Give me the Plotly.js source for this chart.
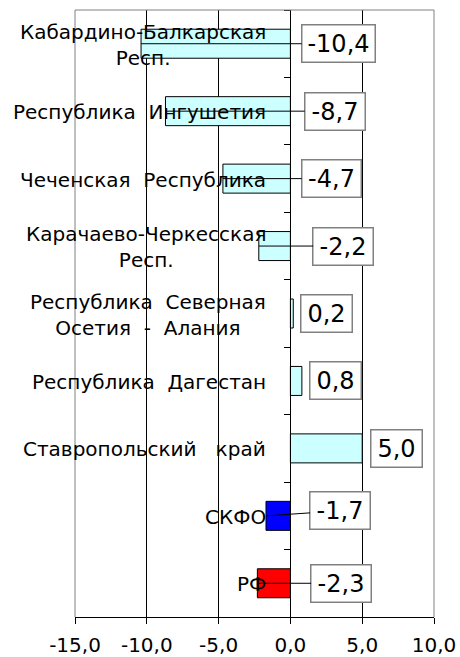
<!DOCTYPE html>
<html>
<head>
<meta charset="utf-8">
<script src="https://cdn.plot.ly/plotly-3.0.1.min.js"></script>
<style>html,body{margin:0;padding:0;background:#fff;}#chart{width:460px;height:657px;}</style>
</head>
<body>
<div id="chart"></div>
<script>
// ---- data ----
const categories = ['Кабардино-Балкарская Респ.', 'Республика Ингушетия', 'Чеченская Республика',
  'Карачаево-Черкесская Респ.', 'Республика Северная Осетия - Алания', 'Республика Дагестан',
  'Ставропольский край', 'СКФО', 'РФ'];
const categoryLabels = ['Кабардино-Балкарская<br>Респ.', 'Республика\u00a0 Ингушетия', 'Чеченская\u00a0 Республика',
  'Карачаево-Черкесская<br>Респ.', 'Республика\u00a0 Северная<br>Осетия\u00a0 -\u00a0 Алания', 'Республика\u00a0 Дагестан',
  'Ставропольский\u00a0\u00a0 край', 'СКФО', 'РФ'];
const values = [-10.4, -8.7, -4.7, -2.2, 0.2, 0.8, 5.0, -1.7, -2.3];
const tickValues = [-15, -10, -5, 0, 5, 10];
const tickLabels = ['-15,0', '-10,0', '-5,0', '0,0', '5,0', '10,0'];

// ---- style ----
const barColors = ['#CCFFFF', '#CCFFFF', '#CCFFFF', '#CCFFFF', '#CCFFFF', '#CCFFFF', '#CCFFFF', '#0000FF', '#FF0000'];
const labelBoxX = [3.34, 3.1, 2.86, 3.69, 2.5, 3.13, 7.38, 3.48, 3.55];   // box centre on x axis
const labelBoxDy = [0, 0, 0, 0, 0, 0, 0, -5, 0];                        // pixel offset
const labelBoxW = [68, 55, 54, 55, 46, 46, 46, 55, 55];
const FONT = 'DejaVu Sans, Arial, sans-serif';

const fmt = v => v.toFixed(1).replace('.', ',');

const trace = {
  type: 'bar', orientation: 'h',
  x: values, y: categories,
  width: 0.43,
  marker: {color: barColors, line: {color: '#000', width: 1}},
  hoverinfo: 'skip'
};

const annotations = [];
categories.forEach((c, i) => {
  annotations.push({
    x: 0, y: c, xref: 'x', yref: 'y', xanchor: 'right', yanchor: 'middle',
    xshift: -22, yshift: -1, showarrow: false, align: 'center',
    text: categoryLabels[i], font: {family: FONT, size: 20, color: '#000'}
  });
  annotations.push({
    x: values[i], y: c, xref: 'x', yref: 'y',
    ax: labelBoxX[i], axref: 'x', ay: labelBoxDy[i], ayref: 'pixel',
    showarrow: true, arrowhead: 0, arrowwidth: 1, standoff: 0,
    arrowcolor: values[i] < 0 ? '#000' : 'rgba(0,0,0,0)',
    text: fmt(values[i]), font: {family: FONT, size: 24, color: '#000'},
    bgcolor: '#fff', bordercolor: '#808080', borderwidth: 1.5, borderpad: 2,
    width: labelBoxW[i], height: 32, align: 'center'
  });
});

const layout = {
  width: 460, height: 657,
  margin: {l: 75, r: 26, t: 10, b: 40},
  paper_bgcolor: '#fff', plot_bgcolor: '#fff',
  showlegend: false,
  font: {family: FONT, color: '#000'},
  xaxis: {
    range: [-15, 10], tickvals: tickValues, ticktext: tickLabels,
    showgrid: true, gridcolor: '#000', gridwidth: 1, zeroline: false,
    showline: true, linecolor: '#000', linewidth: 1,
    ticks: 'outside', ticklen: 6, tickcolor: '#000', ticklabelstandoff: 4,
    tickfont: {family: FONT, size: 20, color: '#000'},
    fixedrange: true
  },
  yaxis: {
    type: 'category', categoryarray: categories, range: [8.5, -0.5],
    anchor: 'free', position: 0.6, side: 'left',
    showline: true, linecolor: '#000', linewidth: 1,
    ticks: 'outside', ticklen: 6, tickcolor: '#000', tickson: 'boundaries',
    showticklabels: false, showgrid: false, zeroline: false,
    fixedrange: true
  },
  shapes: [
    {type: 'line', xref: 'paper', yref: 'paper', x0: 0, x1: 0, y0: 0, y1: 1, line: {color: '#808080', width: 1}, layer: 'above'},
    {type: 'line', xref: 'paper', yref: 'paper', x0: 0, x1: 1, y0: 1, y1: 1, line: {color: '#808080', width: 1}, layer: 'above'},
    {type: 'line', xref: 'paper', yref: 'paper', x0: 1, x1: 1, y0: 0, y1: 1, line: {color: '#808080', width: 1}, layer: 'above'}
  ],
  annotations: annotations
};

Plotly.newPlot('chart', [trace], layout, {displayModeBar: false, staticPlot: true});
</script>
</body>
</html>
